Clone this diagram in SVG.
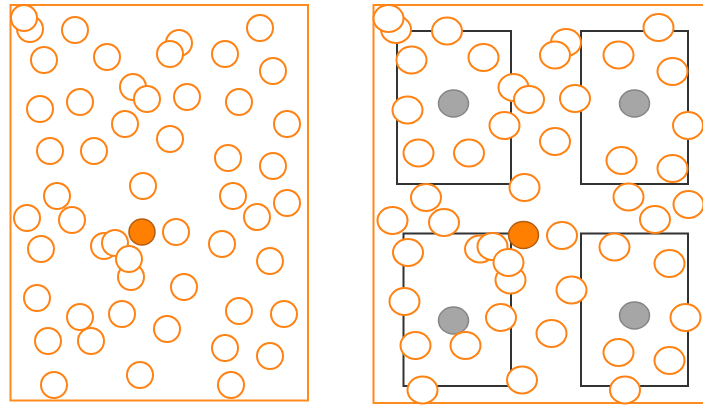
<svg xmlns="http://www.w3.org/2000/svg" width="703" height="405" viewBox="0 0 703 405">
<style>
.frame{fill:none;stroke:#FF8A1E;stroke-width:2}
.c{fill:#fff;stroke:#FF8214;stroke-width:2}
.box{fill:none;stroke:#333;stroke-width:2}
.g{fill:#A6A6A6;stroke:#858585;stroke-width:1.5}
.hot{fill:#FF7F00;stroke:#B35E12;stroke-width:1.5}
</style>
<rect width="703" height="405" fill="#fff"/>
<g id="left-panel">
<rect class="frame" x="10.5" y="5" width="297.5" height="395.5"/>
<g id="left-particles">
<circle class="c" cx="30" cy="29" r="13"/>
<circle class="c" cx="24" cy="18" r="13"/>
<circle class="c" cx="75" cy="30" r="13"/>
<circle class="c" cx="44" cy="60" r="13"/>
<circle class="c" cx="107" cy="57" r="13"/>
<circle class="c" cx="179" cy="43" r="13"/>
<circle class="c" cx="170" cy="54" r="13"/>
<circle class="c" cx="225" cy="54" r="13"/>
<circle class="c" cx="260" cy="28" r="13"/>
<circle class="c" cx="273" cy="71" r="13"/>
<circle class="c" cx="133" cy="87" r="13"/>
<circle class="c" cx="147" cy="99" r="13"/>
<circle class="c" cx="187" cy="97" r="13"/>
<circle class="c" cx="239" cy="102" r="13"/>
<circle class="c" cx="40" cy="109" r="13"/>
<circle class="c" cx="80" cy="102" r="13"/>
<circle class="c" cx="125" cy="124" r="13"/>
<circle class="c" cx="287" cy="124" r="13"/>
<circle class="c" cx="50" cy="151" r="13"/>
<circle class="c" cx="94" cy="151" r="13"/>
<circle class="c" cx="170" cy="139" r="13"/>
<circle class="c" cx="228" cy="158" r="13"/>
<circle class="c" cx="273" cy="166" r="13"/>
<circle class="c" cx="143" cy="186" r="13"/>
<circle class="c" cx="57" cy="196" r="13"/>
<circle class="c" cx="233" cy="196" r="13"/>
<circle class="c" cx="287" cy="203" r="13"/>
<circle class="c" cx="257" cy="217" r="13"/>
<circle class="c" cx="27" cy="218" r="13"/>
<circle class="c" cx="72" cy="220" r="13"/>
<circle class="c" cx="176" cy="232" r="13"/>
<circle class="c" cx="41" cy="249" r="13"/>
<circle class="c" cx="104" cy="246" r="13"/>
<circle class="c" cx="115" cy="243" r="13"/>
<circle class="c" cx="131" cy="277" r="13"/>
<circle class="c" cx="129" cy="259" r="13"/>
<circle class="c" cx="222" cy="244" r="13"/>
<circle class="c" cx="270" cy="261" r="13"/>
<circle class="c" cx="37" cy="298" r="13"/>
<circle class="c" cx="184" cy="287" r="13"/>
<circle class="c" cx="80" cy="317" r="13"/>
<circle class="c" cx="122" cy="314" r="13"/>
<circle class="c" cx="239" cy="311" r="13"/>
<circle class="c" cx="284" cy="314" r="13"/>
<circle class="c" cx="48" cy="341" r="13"/>
<circle class="c" cx="91" cy="341" r="13"/>
<circle class="c" cx="167" cy="329" r="13"/>
<circle class="c" cx="225" cy="348" r="13"/>
<circle class="c" cx="270" cy="356" r="13"/>
<circle class="c" cx="54" cy="385" r="13"/>
<circle class="c" cx="140" cy="375" r="13"/>
<circle class="c" cx="231" cy="385" r="13"/>
</g>
<circle id="left-hot" class="hot" cx="142" cy="232" r="13"/>
</g>
<g id="right-panel">
<rect class="frame" x="373.5" y="5" width="340" height="398"/>
<g id="cells">
<g id="cell-tl"><rect class="box" x="397" y="31" width="114" height="153"/><ellipse class="g" cx="453.5" cy="103.5" rx="15" ry="13.5"/></g>
<g id="cell-tr"><rect class="box" x="581" y="31" width="107" height="153"/><ellipse class="g" cx="634.5" cy="103.5" rx="15" ry="13.5"/></g>
<g id="cell-bl"><rect class="box" x="403.5" y="233.5" width="107.5" height="152.5"/><ellipse class="g" cx="453.5" cy="320.5" rx="15" ry="13.5"/></g>
<g id="cell-br"><rect class="box" x="581" y="233.5" width="107" height="152.5"/><ellipse class="g" cx="634.5" cy="315.5" rx="15" ry="13.5"/></g>
</g>
<g id="right-particles">
<ellipse class="c" cx="396" cy="29.5" rx="15" ry="13.5"/>
<ellipse class="c" cx="388.5" cy="18.5" rx="15" ry="13.5"/>
<ellipse class="c" cx="447" cy="31" rx="15" ry="13.5"/>
<ellipse class="c" cx="411.5" cy="60" rx="15" ry="13.5"/>
<ellipse class="c" cx="483.5" cy="57.5" rx="15" ry="13.5"/>
<ellipse class="c" cx="566" cy="42.5" rx="15" ry="13.5"/>
<ellipse class="c" cx="555" cy="55" rx="15" ry="13.5"/>
<ellipse class="c" cx="618.5" cy="55" rx="15" ry="13.5"/>
<ellipse class="c" cx="658.5" cy="27.5" rx="15" ry="13.5"/>
<ellipse class="c" cx="672.5" cy="71.5" rx="15" ry="13.5"/>
<ellipse class="c" cx="513.5" cy="87.5" rx="15" ry="13.5"/>
<ellipse class="c" cx="529" cy="99.5" rx="15" ry="13.5"/>
<ellipse class="c" cx="575" cy="98.5" rx="15" ry="13.5"/>
<ellipse class="c" cx="407.5" cy="110" rx="15" ry="13.5"/>
<ellipse class="c" cx="504.5" cy="125.5" rx="15" ry="13.5"/>
<ellipse class="c" cx="688" cy="125.5" rx="15" ry="13.5"/>
<ellipse class="c" cx="418.5" cy="153" rx="15" ry="13.5"/>
<ellipse class="c" cx="469" cy="153" rx="15" ry="13.5"/>
<ellipse class="c" cx="555" cy="141.5" rx="15" ry="13.5"/>
<ellipse class="c" cx="621.5" cy="160.5" rx="15" ry="13.5"/>
<ellipse class="c" cx="672.5" cy="168.5" rx="15" ry="13.5"/>
<ellipse class="c" cx="524.5" cy="187.5" rx="15" ry="13.5"/>
<ellipse class="c" cx="426" cy="197.5" rx="15" ry="13.5"/>
<ellipse class="c" cx="628.5" cy="197" rx="15" ry="13.5"/>
<ellipse class="c" cx="688.5" cy="204.5" rx="15" ry="13.5"/>
<ellipse class="c" cx="392.5" cy="220.5" rx="15" ry="13.5"/>
<ellipse class="c" cx="444" cy="222.5" rx="15" ry="13.5"/>
<ellipse class="c" cx="655" cy="219.5" rx="15" ry="13.5"/>
<ellipse class="c" cx="562" cy="235.5" rx="15" ry="13.5"/>
<ellipse class="c" cx="408" cy="252.5" rx="15" ry="13.5"/>
<ellipse class="c" cx="480" cy="249" rx="15" ry="13.5"/>
<ellipse class="c" cx="492.5" cy="246.5" rx="15" ry="13.5"/>
<ellipse class="c" cx="510.5" cy="280" rx="15" ry="13.5"/>
<ellipse class="c" cx="508.5" cy="262.5" rx="15" ry="13.5"/>
<ellipse class="c" cx="614.5" cy="247" rx="15" ry="13.5"/>
<ellipse class="c" cx="669.5" cy="263.5" rx="15" ry="13.5"/>
<ellipse class="c" cx="404.5" cy="301.5" rx="15" ry="13.5"/>
<ellipse class="c" cx="571.5" cy="290" rx="15" ry="13.5"/>
<ellipse class="c" cx="501" cy="317.5" rx="15" ry="13.5"/>
<ellipse class="c" cx="551.5" cy="333.5" rx="15" ry="13.5"/>
<ellipse class="c" cx="685.5" cy="317.5" rx="15" ry="13.5"/>
<ellipse class="c" cx="415.5" cy="345.5" rx="15" ry="13.5"/>
<ellipse class="c" cx="465.5" cy="345.5" rx="15" ry="13.5"/>
<ellipse class="c" cx="618.5" cy="352.5" rx="15" ry="13.5"/>
<ellipse class="c" cx="669.5" cy="360.5" rx="15" ry="13.5"/>
<ellipse class="c" cx="422.5" cy="390" rx="15" ry="13.5"/>
<ellipse class="c" cx="522" cy="380" rx="15" ry="13.5"/>
<ellipse class="c" cx="625" cy="390" rx="15" ry="13.5"/>
</g>
<ellipse id="right-hot" class="hot" cx="523.5" cy="235" rx="15" ry="13.5"/>
</g>
</svg>
